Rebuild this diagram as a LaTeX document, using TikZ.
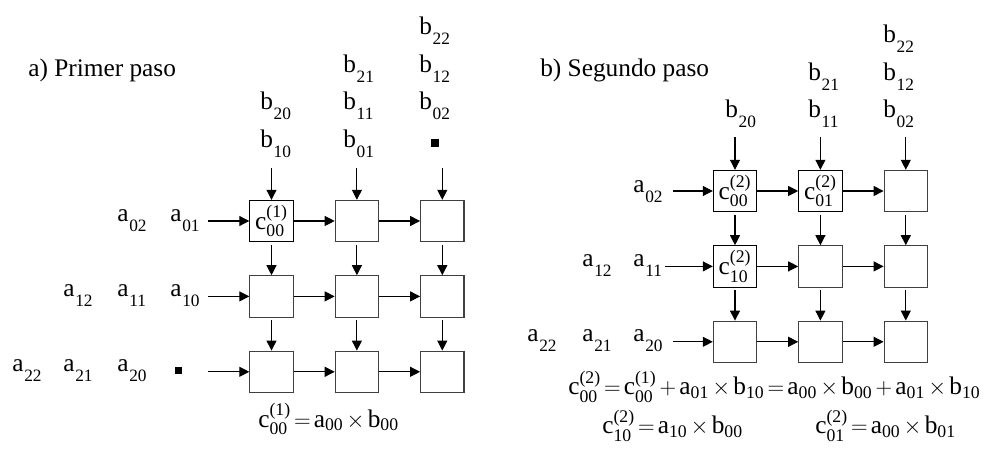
\documentclass[tikz,border=0pt]{standalone}
\usepackage{amsmath}
\usepackage{fontspec}
\setmainfont{Liberation Serif}
\usetikzlibrary{arrows.meta,positioning}

% matrix element with a lowered index, c term with step and index
\newcommand{\elm}[2]{#1\kern0.6pt\raisebox{-0.37em}{\fontsize{13}{15}\selectfont #2}}
\newcommand{\cc}[2]{\text{c}^{\text{(#2)}}_{\text{#1}}}
\newcommand{\ee}[2]{\text{#1}_{\text{#2}}}
\newcommand{\tight}{\thickmuskip=2.5mu\medmuskip=2.5mu}

\begin{document}
\begin{tikzpicture}[
  x=0.75pt, y=-0.75pt,
  node distance=24.75pt and 30.75pt,
  every node/.style={font=\fontsize{19}{22}\selectfont},
  cell/.style={
    rectangle, draw=black!75, line width=0.8pt,
    minimum width=32.5pt, minimum height=31pt, inner sep=0pt
  },
  lbl/.style={anchor=base west, inner sep=0pt},
  dot/.style={rectangle, fill=black, minimum size=5.5pt, inner sep=0pt},
  arr/.style={-{Triangle[length=7.5pt,width=7.5pt]}, line width=0.8pt},
]
  \useasboundingbox (0,0) rectangle (986,452);

  % a) Primer paso
  \node[lbl] (titA) at (28,77) {a) Primer paso};

  % Left grid
  \node[cell, draw=black] (l11) at (271.5,221) {$\cc{00}{1}$};
  \node[cell, right=of l11] (l12) {};
  \node[cell, right=of l12] (l13) {};
  \node[cell, below=of l11] (l21) {};
  \node[cell, right=of l21] (l22) {};
  \node[cell, right=of l22] (l23) {};
  \node[cell, below=of l21] (l31) {};
  \node[cell, right=of l31] (l32) {};
  \node[cell, right=of l32] (l33) {};

  % Left b inputs
  \node[lbl] (lb20) at (260,110) {\elm{b}{20}};
  \node[lbl] (lb10) at (260,148) {\elm{b}{10}};
  \node[lbl] (lb21) at (343,73) {\elm{b}{21}};
  \node[lbl] (lb11) at (343,110) {\elm{b}{11}};
  \node[lbl] (lb01) at (343,148) {\elm{b}{01}};
  \node[lbl] (lb22) at (419,35) {\elm{b}{22}};
  \node[lbl] (lb12) at (419,73) {\elm{b}{12}};
  \node[lbl] (lb02) at (419,110) {\elm{b}{02}};
  \node[dot] (lbdot) at (435,143) {};

  % Left a inputs
  \node[lbl] (la02) at (117,222) {\elm{a}{02}};
  \node[lbl] (la01) at (170,222) {\elm{a}{01}};
  \node[lbl] (la12) at (63,297) {\elm{a}{12}};
  \node[lbl] (la11) at (117,297) {\elm{a}{11}};
  \node[lbl] (la10) at (170,297) {\elm{a}{10}};
  \node[lbl] (la22) at (12,372) {\elm{a}{22}};
  \node[lbl] (la21) at (63,372) {\elm{a}{21}};
  \node[lbl] (la20) at (117,372) {\elm{a}{20}};
  \node[dot] (ladot) at (178.5,370.5) {};

  \node[lbl] (eqA) at (258,427) {$\tight\cc{00}{1}=\ee{a}{00}\times\ee{b}{00}$};

  % Left arrows
  \coordinate (lt1) at ([yshift=24pt]l11.north);
  \coordinate (lt2) at ([yshift=24pt]l12.north);
  \coordinate (lt3) at ([yshift=24pt]l13.north);
  \coordinate (li1) at ([xshift=-30.75pt]l11.west);
  \coordinate (li2) at ([xshift=-30.75pt]l21.west);
  \coordinate (li3) at ([xshift=-30.75pt]l31.west);
  \draw[arr] (lt1) -- (l11);
  \draw[arr] (lt2) -- (l12);
  \draw[arr] (lt3) -- (l13);
  \draw[arr] (li1) -- (l11);
  \draw[arr] (li2) -- (l21);
  \draw[arr] (li3) -- (l31);
  \draw[arr] (l11) -- (l12);
  \draw[arr] (l12) -- (l13);
  \draw[arr] (l21) -- (l22);
  \draw[arr] (l22) -- (l23);
  \draw[arr] (l31) -- (l32);
  \draw[arr] (l32) -- (l33);
  \draw[arr, shorten <=2pt] (l11) -- (l21);
  \draw[arr, shorten <=2pt] (l12) -- (l22);
  \draw[arr, shorten <=2pt] (l13) -- (l23);
  \draw[arr, shorten <=2pt] (l21) -- (l31);
  \draw[arr, shorten <=2pt] (l22) -- (l32);
  \draw[arr, shorten <=2pt] (l23) -- (l33);

  % b) Segundo paso
  \node[lbl] (titB) at (540,77) {b) Segundo paso};

  % Right grid
  \node[cell, draw=black] (r11) at (735,191) {$\cc{00}{2}$};
  \node[cell, draw=black, right=of r11] (r12) {$\cc{01}{2}$};
  \node[cell, right=of r12] (r13) {};
  \node[cell, draw=black, below=of r11] (r21) {$\cc{10}{2}$};
  \node[cell, right=of r21] (r22) {};
  \node[cell, right=of r22] (r23) {};
  \node[cell, below=of r21] (r31) {};
  \node[cell, right=of r31] (r32) {};
  \node[cell, right=of r32] (r33) {};

  % Right b inputs
  \node[lbl] (rb20) at (725,118) {\elm{b}{20}};
  \node[lbl] (rb21) at (808,81) {\elm{b}{21}};
  \node[lbl] (rb11) at (808,118) {\elm{b}{11}};
  \node[lbl] (rb22) at (883,43) {\elm{b}{22}};
  \node[lbl] (rb12) at (883,81) {\elm{b}{12}};
  \node[lbl] (rb02) at (883,118) {\elm{b}{02}};

  % Right a inputs
  \node[lbl] (ra02) at (633,193) {\elm{a}{02}};
  \node[lbl] (ra12) at (582,267) {\elm{a}{12}};
  \node[lbl] (ra11) at (633,267) {\elm{a}{11}};
  \node[lbl] (ra22) at (527,342) {\elm{a}{22}};
  \node[lbl] (ra21) at (582,342) {\elm{a}{21}};
  \node[lbl] (ra20) at (633,342) {\elm{a}{20}};

  \node[lbl] (eqB1) at (568,395)
    {$\tight\cc{00}{2}=\cc{00}{1}+\ee{a}{01}\times\ee{b}{10}=\ee{a}{00}\times\ee{b}{00}+\ee{a}{01}\times\ee{b}{10}$};
  \node[lbl] (eqB2) at (602,434) {$\tight\cc{10}{2}=\ee{a}{10}\times\ee{b}{00}$};
  \node[lbl] (eqB3) at (815,434) {$\tight\cc{01}{2}=\ee{a}{00}\times\ee{b}{01}$};

  % Right arrows
  \coordinate (rt1) at ([yshift=24.75pt]r11.north);
  \coordinate (rt2) at ([yshift=24.75pt]r12.north);
  \coordinate (rt3) at ([yshift=24.75pt]r13.north);
  \coordinate (ri1) at ([xshift=-30pt]r11.west);
  \coordinate (ri2) at ([xshift=-35.5pt]r21.west);
  \coordinate (ri3) at ([xshift=-30pt]r31.west);
  \draw[arr] (rt1) -- (r11);
  \draw[arr] (rt2) -- (r12);
  \draw[arr] (rt3) -- (r13);
  \draw[arr] (ri1) -- (r11);
  \draw[arr] (ri2) -- (r21);
  \draw[arr] (ri3) -- (r31);
  \draw[arr] (r11) -- (r12);
  \draw[arr] (r12) -- (r13);
  \draw[arr] (r21) -- (r22);
  \draw[arr] (r22) -- (r23);
  \draw[arr] (r31) -- (r32);
  \draw[arr] (r32) -- (r33);
  \draw[arr, shorten <=2pt] (r11) -- (r21);
  \draw[arr, shorten <=2pt] (r12) -- (r22);
  \draw[arr, shorten <=2pt] (r13) -- (r23);
  \draw[arr, shorten <=2pt] (r21) -- (r31);
  \draw[arr, shorten <=2pt] (r22) -- (r32);
  \draw[arr, shorten <=2pt] (r23) -- (r33);
\end{tikzpicture}
\end{document}
